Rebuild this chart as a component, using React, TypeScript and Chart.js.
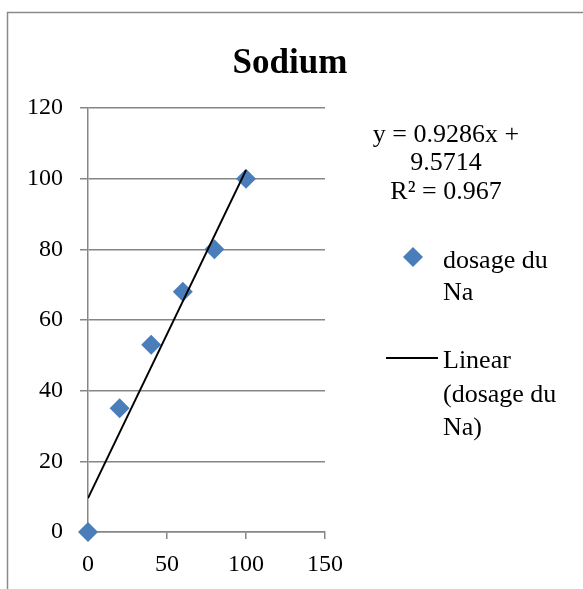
import React, { useEffect, useRef } from "react";
import { Chart, registerables } from "chart.js";

Chart.register(...registerables);

const xValues = [0, 20, 40, 60, 80, 100];
const yValues = [0, 35, 53, 68, 80, 100];
const trendSlope = 0.9286;
const trendIntercept = 9.5714;
const trendRange = [0, 100];
const equationLines = ["y = 0.9286x +", "9.5714", "R\u00b2 = 0.967"];
const seriesLabelLines = ["dosage du", "Na"];
const trendLabelLines = ["Linear", "(dosage du", "Na)"];
const titleText = "Sodium";

const FONT = '"Liberation Serif", "Times New Roman", serif';
const BLUE = "#4a7ebb";
const GRAY = "#868686";

const overlayPlugin = {
  id: "overlay",
  afterDraw(chart: any) {
    const ctx = chart.ctx as CanvasRenderingContext2D;
    ctx.save();
    // frame
    ctx.strokeStyle = "#8a8a8a";
    ctx.lineWidth = 1.5;
    ctx.strokeRect(7.5, 12.5, 700, 700);
    // title
    ctx.fillStyle = "#000";
    ctx.font = `bold 35px ${FONT}`;
    ctx.textAlign = "center";
    ctx.textBaseline = "alphabetic";
    ctx.fillText(titleText, 290, 73);
    // equation
    ctx.font = `26px ${FONT}`;
    const eqBase = [142, 170, 199];
    equationLines.forEach((t, i) => ctx.fillText(t, 446, eqBase[i]));
    // legend entry 1
    ctx.textAlign = "left";
    const sBase = [268, 300];
    seriesLabelLines.forEach((t, i) => ctx.fillText(t, 443, sBase[i]));
    ctx.fillStyle = BLUE;
    ctx.beginPath();
    const cx = 413, cy = 257, r = 10;
    ctx.moveTo(cx, cy - r);
    ctx.lineTo(cx + r, cy);
    ctx.lineTo(cx, cy + r);
    ctx.lineTo(cx - r, cy);
    ctx.closePath();
    ctx.fill();
    // legend entry 2
    ctx.fillStyle = "#000";
    const tBase = [368, 402, 435];
    trendLabelLines.forEach((t, i) => ctx.fillText(t, 443, tBase[i]));
    ctx.strokeStyle = "#000";
    ctx.lineWidth = 2;
    ctx.beginPath();
    ctx.moveTo(386, 358);
    ctx.lineTo(438, 358);
    ctx.stroke();
    ctx.restore();
  },
};

export default function App() {
  const ref = useRef<HTMLCanvasElement>(null);
  useEffect(() => {
    if (!ref.current) return;
    const scatterData = xValues.map((x, i) => ({ x, y: yValues[i] }));
    const trendData = trendRange.map((x) => ({ x, y: trendSlope * x + trendIntercept }));
    const chart = new Chart(ref.current, {
      type: "scatter",
      data: {
        datasets: [
          {
            type: "line",
            label: "Linear (dosage du Na)",
            data: trendData,
            borderColor: "#000",
            borderWidth: 2,
            pointRadius: 0,
            fill: false,
            order: 0,
          } as any,
          {
            label: "dosage du Na",
            data: scatterData,
            pointStyle: "rectRot",
            pointRadius: 10,
            pointBackgroundColor: BLUE,
            pointBorderColor: BLUE,
            pointBorderWidth: 0,
            clip: false,
            order: 1,
          } as any,
        ],
      },
      options: {
        animation: false,
        responsive: false,
        devicePixelRatio: 1,
        layout: { padding: { top: 108, right: 258, left: 0, bottom: 0 } },
        plugins: { legend: { display: false }, title: { display: false }, tooltip: { enabled: false } },
        scales: {
          x: {
            type: "linear",
            min: 0,
            max: 150,
            afterFit: (s: any) => { s.height = 57; },
            ticks: { stepSize: 50, color: "#000", font: { family: FONT, size: 24 }, padding: 11, maxRotation: 0 },
            grid: { drawOnChartArea: false, tickLength: 7, color: GRAY, lineWidth: 1.5 },
            border: { color: GRAY, width: 1.5 },
          },
          y: {
            type: "linear",
            min: 0,
            max: 120,
            afterFit: (s: any) => { s.width = 88; },
            ticks: { stepSize: 20, color: "#000", font: { family: FONT, size: 24 }, padding: 17 },
            grid: { color: GRAY, lineWidth: 1.5, tickLength: 8 },
            border: { color: GRAY, width: 1.5 },
          },
        },
      },
      plugins: [overlayPlugin],
    });
    return () => chart.destroy();
  }, []);
  return (
    <div style={{ position: "fixed", left: 0, top: 0, width: 583, height: 589, background: "#fff" }}>
      <canvas ref={ref} width={583} height={589} style={{ display: "block" }} />
    </div>
  );
}
